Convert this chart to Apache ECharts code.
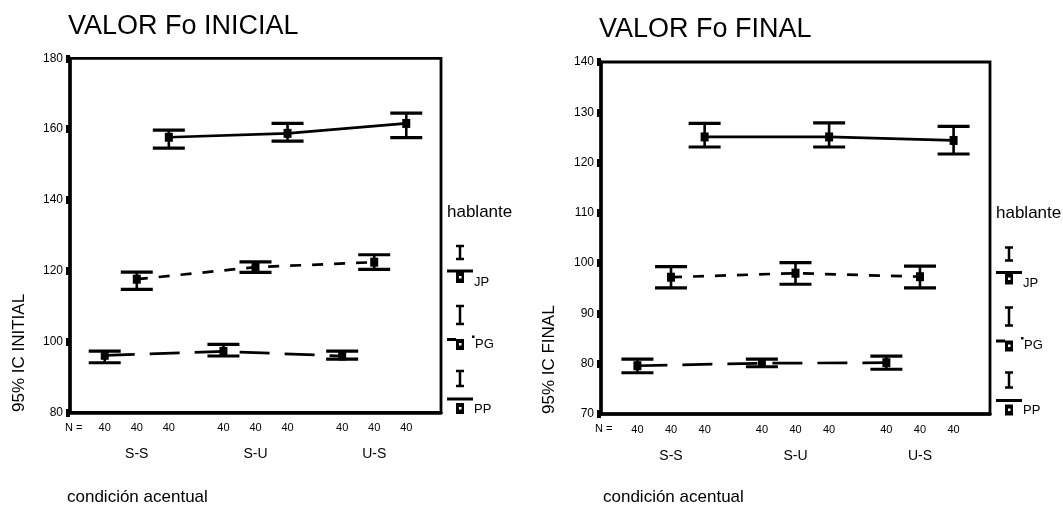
<!DOCTYPE html>
<html>
<head>
<meta charset="utf-8">
<script src="https://cdn.jsdelivr.net/npm/echarts@6/dist/echarts.min.js"></script>
<style>
  html, body { margin: 0; padding: 0; background: #fff; }
  #chart { width: 1063px; height: 506px; }
</style>
</head>
<body>
<div id="chart"></div>
<script>
// Conditions on the x axis and speakers (hablante)
const categories = ['S-S', 'S-U', 'U-S'];
const speakers = ['JP', 'PG', 'PP'];

// 95% confidence intervals per condition: [lower, mean, upper]
const inicialJP = [[154.6, 157.7, 159.7], [156.6, 158.8, 161.6], [157.6, 161.6, 164.5]];
const inicialPG = [[114.7, 117.6, 119.6], [119.5, 121.0, 122.5], [120.4, 122.4, 124.5]];
const inicialPP = [[94.0, 96.1, 97.3], [95.9, 97.2, 99.2], [95.0, 95.9, 97.3]];

const finalJP = [[123.1, 125.1, 127.8], [123.1, 125.1, 127.9], [121.7, 124.4, 127.2]];
const finalPG = [[95.1, 97.2, 99.3], [95.8, 98.0, 100.1], [95.1, 97.3, 99.4]];
const finalPP = [[78.2, 79.6, 80.9], [79.4, 80.1, 80.9], [78.9, 80.2, 81.5]];

// Sample size per condition, for JP, PG, PP
const inicialN = [[40, 40, 40], [40, 40, 40], [40, 40, 40]];
const finalN = [[40, 40, 40], [40, 40, 40], [40, 40, 40]];

// Y-axis tick labels
const inicialTicks = [80, 100, 120, 140, 160, 180];
const finalTicks = [70, 80, 90, 100, 110, 120, 130, 140];

const FONT = '"Liberation Sans", Arial, Helvetica, sans-serif';
const speakerOffset = { JP: 0.27, PG: 0, PP: -0.27 };
const speakerDash = { JP: 'solid', PG: [11, 11], PP: [30, 15] };

function renderErrorBar(params, api) {
  const x = api.value(0);
  const lo = api.coord([x, api.value(1)]);
  const hi = api.coord([x, api.value(2)]);
  const hw = 16;
  const cap = { stroke: '#000', lineWidth: 3.2 };
  return {
    type: 'group',
    children: [
      { type: 'line', shape: { x1: lo[0], y1: lo[1], x2: hi[0], y2: hi[1] }, style: { stroke: '#000', lineWidth: 2.6 } },
      { type: 'line', shape: { x1: hi[0] - hw, y1: hi[1], x2: hi[0] + hw, y2: hi[1] }, style: cap },
      { type: 'line', shape: { x1: lo[0] - hw, y1: lo[1], x2: lo[0] + hw, y2: lo[1] }, style: cap }
    ]
  };
}

function renderCount(params, api) {
  const p = api.coord([api.value(0), api.value(1)]);
  return {
    type: 'text',
    x: p[0],
    y: p[1] + 16,
    style: {
      text: String(api.value(2)),
      font: '11px ' + FONT,
      fill: '#000',
      textAlign: 'center',
      textVerticalAlign: 'middle'
    }
  };
}

function panelSeries(gi, sets, counts, ticks) {
  const out = [];
  const countData = [];
  speakers.forEach((sp, si) => {
    const ci = sets[si];
    const off = speakerOffset[sp];
    out.push({
      type: 'line',
      name: sp,
      xAxisIndex: gi,
      yAxisIndex: gi,
      data: ci.map((d, i) => [i + off, d[1]]),
      symbol: 'rect',
      symbolSize: [8, 9],
      itemStyle: { color: '#000' },
      lineStyle: { color: '#000', width: 2.7, type: speakerDash[sp] },
      z: 3,
      animation: false
    });
    out.push({
      type: 'custom',
      name: sp + ' IC',
      xAxisIndex: gi,
      yAxisIndex: gi,
      renderItem: renderErrorBar,
      encode: { x: 0, y: [1, 2] },
      data: ci.map((d, i) => [i + off, d[0], d[2]]),
      z: 4,
      animation: false
    });
    counts.forEach((row, i) => countData.push([i + off, ticks[0], row[si]]));
  });
  out.push({
    type: 'custom',
    name: 'N',
    xAxisIndex: gi,
    yAxisIndex: gi,
    renderItem: renderCount,
    encode: { x: 0, y: 1 },
    data: countData,
    clip: false,
    z: 5,
    animation: false
  });
  return out;
}

function yAxisFor(gi, ticks) {
  return {
    gridIndex: gi,
    type: 'value',
    min: ticks[0],
    max: ticks[ticks.length - 1],
    interval: ticks[1] - ticks[0],
    axisLine: { show: true, onZero: false, lineStyle: { color: '#000', width: 3.5 } },
    axisTick: { show: true, length: 4, lineStyle: { color: '#000', width: 8 } },
    axisLabel: { color: '#000', fontSize: 12, fontFamily: FONT, margin: 7 },
    splitLine: { show: false }
  };
}

function xAxisFor(gi) {
  return {
    gridIndex: gi,
    type: 'value',
    min: -0.5625,
    max: 2.5625,
    axisLine: { show: true, onZero: false, lineStyle: { color: '#000', width: 3.5 } },
    axisTick: { show: false },
    splitLine: { show: false },
    axisLabel: {
      customValues: [0, 1, 2],
      formatter: v => categories[Math.round(v)],
      color: '#000',
      fontSize: 14,
      fontFamily: FONT,
      margin: 35
    }
  };
}

function text(x, y, str, size, extra) {
  return Object.assign({
    type: 'text', x, y, silent: true,
    style: { text: str, font: size + 'px ' + FONT, fill: '#000', textAlign: 'left', textVerticalAlign: 'middle' }
  }, extra || {});
}

function ibar(x, y1, y2) {
  const s = { stroke: '#000', lineWidth: 2.5 };
  return [
    { type: 'line', shape: { x1: x, y1, x2: x, y2 }, style: s },
    { type: 'line', shape: { x1: x - 4, y1, x2: x + 4, y2: y1 }, style: s },
    { type: 'line', shape: { x1: x - 4, y1: y2, x2: x + 4, y2 }, style: s }
  ];
}

function markerBox(x, y, h) {
  return [
    { type: 'rect', shape: { x, y, width: 8, height: h }, style: { fill: '#000' } },
    { type: 'rect', shape: { x: x + 3, y: y + h / 2 - 1.5, width: 2.5, height: 2.5 }, style: { fill: '#fff' } }
  ];
}

// Legend block (hablante) drawn next to each panel
function legendBlock(x0, dy) {
  const els = [];
  els.push(text(x0, 212 + dy, 'hablante', 17));
  // JP
  els.push(...ibar(x0 + 13, 246 + dy, 259 + dy));
  els.push({ type: 'rect', shape: { x: x0, y: 269.5 + dy, width: 26, height: 3 }, style: { fill: '#000' } });
  els.push(...markerBox(x0 + 9, 272 + dy, 11));
  els.push(text(x0 + 27, 282 + dy, speakers[0], 13));
  // PG
  els.push(...ibar(x0 + 13, 306 + dy, 324 + dy));
  els.push({ type: 'rect', shape: { x: x0, y: 338 + dy, width: 9, height: 3 }, style: { fill: '#000' } });
  els.push(...markerBox(x0 + 9, 339 + dy, 11));
  els.push({ type: 'rect', shape: { x: x0 + 25, y: 335.5 + dy, width: 2.5, height: 2.5 }, style: { fill: '#000' } });
  els.push(text(x0 + 28, 344 + dy, speakers[1], 13));
  // PP
  els.push(...ibar(x0 + 13, 371 + dy, 386 + dy));
  els.push({ type: 'rect', shape: { x: x0, y: 397.5 + dy, width: 26, height: 3 }, style: { fill: '#000' } });
  els.push(...markerBox(x0 + 9, 403 + dy, 11));
  els.push(text(x0 + 27, 409 + dy, speakers[2], 13));
  return els;
}

const chart = echarts.init(document.getElementById('chart'), null, { renderer: 'canvas' });

const graphics = [
  text(68, 26.5, 'VALOR Fo INICIAL', 27),
  text(599, 30, 'VALOR Fo FINAL', 27),
  text(19.5, 412, '95% IC INITIAL', 17, { rotation: Math.PI / 2 }),
  text(549.5, 414, '95% IC FINAL', 17, { rotation: Math.PI / 2 }),
  text(65, 428, 'N =', 11),
  text(595, 429, 'N =', 11),
  text(67, 497, 'condición acentual', 17),
  text(603, 497, 'condición acentual', 17),
  ...legendBlock(447, 0),
  ...legendBlock(996, 1.5)
];

chart.setOption({
  backgroundColor: '#fff',
  animation: false,
  grid: [
    { left: 70, top: 58.3, width: 371, height: 354, show: true, borderColor: '#000', borderWidth: 2.8, backgroundColor: 'transparent' },
    { left: 601, top: 62, width: 389, height: 352, show: true, borderColor: '#000', borderWidth: 2.8, backgroundColor: 'transparent' }
  ],
  xAxis: [xAxisFor(0), xAxisFor(1)],
  yAxis: [yAxisFor(0, inicialTicks), yAxisFor(1, finalTicks)],
  series: [
    ...panelSeries(0, [inicialJP, inicialPG, inicialPP], inicialN, inicialTicks),
    ...panelSeries(1, [finalJP, finalPG, finalPP], finalN, finalTicks)
  ],
  graphic: graphics
});
</script>
</body>
</html>
